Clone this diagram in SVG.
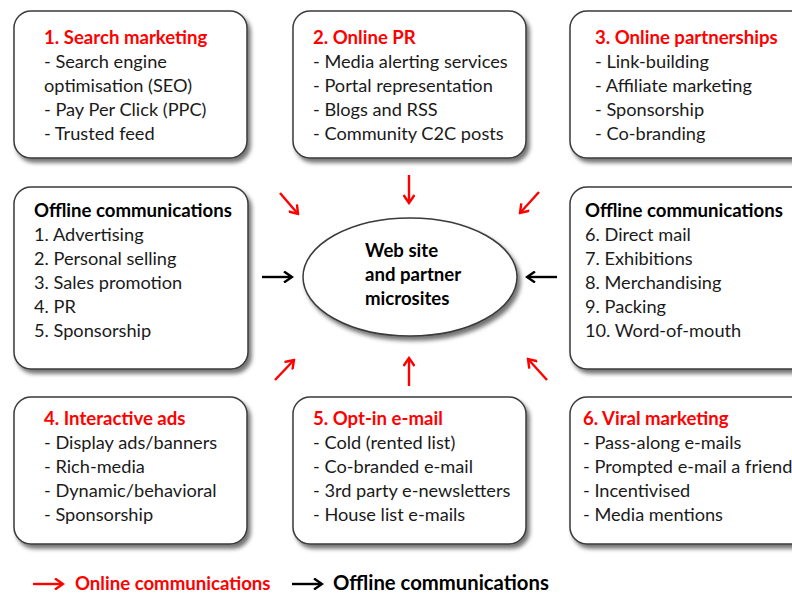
<svg xmlns="http://www.w3.org/2000/svg" width="792" height="594" viewBox="0 0 792 594">
<defs>
<filter id="sh" x="-10%" y="-10%" width="125%" height="130%">
<feDropShadow dx="3" dy="4" stdDeviation="2" flood-color="#000" flood-opacity="0.55"/>
</filter>
<marker id="ar" viewBox="0 0 12 12" refX="10" refY="6" markerWidth="12" markerHeight="12" markerUnits="userSpaceOnUse" orient="auto">
<path d="M2,0.5 L10,6 L2,11.5" fill="none" stroke="#ff0000" stroke-width="2.4"/>
</marker>
<marker id="ab" viewBox="0 0 12 12" refX="10" refY="6" markerWidth="12" markerHeight="12" markerUnits="userSpaceOnUse" orient="auto">
<path d="M2,0.5 L10,6 L2,11.5" fill="none" stroke="#000" stroke-width="2.4"/>
</marker>
</defs>
<style>
.box{fill:#fff;stroke:#3a3a3a;stroke-width:1.5;filter:url(#sh)}
text{font-family:Lato,"Open Sans","Liberation Sans",sans-serif;font-size:18.2px;fill:#1a1a1a}
.t{font-weight:bold;font-size:18.6px;fill:#ff0000}
.b{font-weight:bold;font-size:18.6px;fill:#000}
.r{stroke:#ff0000;stroke-width:2.4;fill:none;marker-end:url(#ar)}
.k{stroke:#000;stroke-width:2.4;fill:none;marker-end:url(#ab)}
</style>
<rect width="792" height="594" fill="#fff"/>

<g id="search">
<rect class="box" x="14" y="11" width="233" height="147" rx="17"/>
<text x="44" y="44" class="t">1. Search marketing</text>
<text x="44" y="68">- Search engine</text>
<text x="44" y="92">optimisation (SEO)</text>
<text x="44" y="116">- Pay Per Click (PPC)</text>
<text x="44" y="140">- Trusted feed</text>
</g>
<g id="onlinepr">
<rect class="box" x="293" y="11" width="233" height="147" rx="17"/>
<text x="313" y="44" class="t">2. Online PR</text>
<text x="313" y="68">- Media alerting services</text>
<text x="313" y="92">- Portal representation</text>
<text x="313" y="116">- Blogs and RSS</text>
<text x="313" y="140">- Community C2C posts</text>
</g>
<g id="partnerships">
<rect class="box" x="570" y="11" width="240" height="147" rx="17"/>
<text x="595" y="44" class="t">3. Online partnerships</text>
<text x="595" y="68">- Link-building</text>
<text x="595" y="92">- Affiliate marketing</text>
<text x="595" y="116">- Sponsorship</text>
<text x="595" y="140">- Co-branding</text>
</g>
<g id="offline-left">
<rect class="box" x="14" y="187" width="234" height="182" rx="17"/>
<text x="34" y="217" class="b">Offline communications</text>
<text x="34" y="241">1. Advertising</text>
<text x="34" y="265">2. Personal selling</text>
<text x="34" y="289">3. Sales promotion</text>
<text x="34" y="313">4. PR</text>
<text x="34" y="337">5. Sponsorship</text>
</g>
<g id="offline-right">
<rect class="box" x="570" y="187" width="240" height="182" rx="17"/>
<text x="585" y="217" class="b">Offline communications</text>
<text x="585" y="241">6. Direct mail</text>
<text x="585" y="265">7. Exhibitions</text>
<text x="585" y="289">8. Merchandising</text>
<text x="585" y="313">9. Packing</text>
<text x="585" y="337">10. Word-of-mouth</text>
</g>
<g id="website">
<ellipse class="box" cx="410" cy="277" rx="107" ry="59"/>
<text x="365" y="257" class="b">Web site</text>
<text x="365" y="281" class="b">and partner</text>
<text x="365" y="305" class="b">microsites</text>
</g>
<g id="interactive">
<rect class="box" x="14" y="397" width="233" height="147" rx="17"/>
<text x="44" y="425" class="t">4. Interactive ads</text>
<text x="44" y="449">- Display ads/banners</text>
<text x="44" y="473">- Rich-media</text>
<text x="44" y="497">- Dynamic/behavioral</text>
<text x="44" y="521">- Sponsorship</text>
</g>
<g id="optin">
<rect class="box" x="293" y="397" width="233" height="147" rx="17"/>
<text x="313" y="425" class="t">5. Opt-in e-mail</text>
<text x="313" y="449">- Cold (rented list)</text>
<text x="313" y="473">- Co-branded e-mail</text>
<text x="313" y="497">- 3rd party e-newsletters</text>
<text x="313" y="521">- House list e-mails</text>
</g>
<g id="viral">
<rect class="box" x="570" y="397" width="240" height="147" rx="17"/>
<text x="583" y="425" class="t">6. Viral marketing</text>
<text x="583" y="449">- Pass-along e-mails</text>
<text x="583" y="473">- Prompted e-mail a friend</text>
<text x="583" y="497">- Incentivised</text>
<text x="583" y="521">- Media mentions</text>
</g>

<g id="connectors">
<line class="r" x1="280" y1="193" x2="298" y2="214"/>
<line class="r" x1="409" y1="175" x2="409" y2="203"/>
<line class="r" x1="539" y1="192" x2="520" y2="213"/>
<line class="r" x1="275" y1="380" x2="294" y2="360"/>
<line class="r" x1="409" y1="386" x2="409" y2="358"/>
<line class="r" x1="547" y1="380" x2="528" y2="359"/>
<line class="k" x1="262" y1="277" x2="292" y2="277"/>
<line class="k" x1="557" y1="277" x2="527" y2="277"/>
</g>

<g id="legend">
<line class="r" x1="33" y1="584" x2="63" y2="584"/>
<text x="75" y="590" class="t">Online communications</text>
<line class="k" x1="292" y1="584" x2="322" y2="584"/>
<text x="333" y="590" class="b" style="font-size:20.3px">Offline communications</text>
</g>
</svg>
